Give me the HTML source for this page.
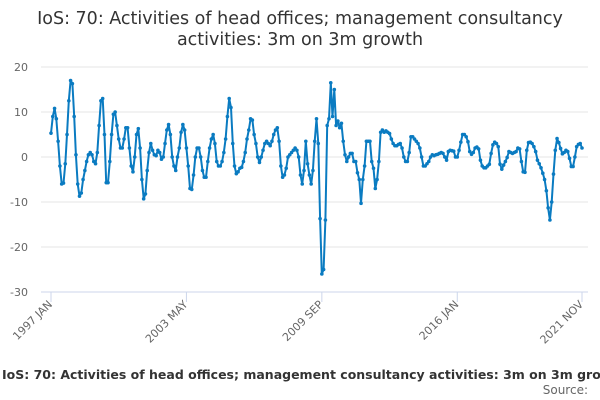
<!DOCTYPE html>
<html><head><meta charset="utf-8"><style>
body{margin:0;background:#fff;font-family:"DejaVu Sans","Liberation Sans",sans-serif;}
#wrap{position:relative;width:600px;height:400px;overflow:hidden;}
svg text{font-family:"DejaVu Sans","Liberation Sans",sans-serif;}
</style></head><body>
<div id="wrap">
<svg id="chart" width="600" height="400">
<text x="300" y="24" text-anchor="middle" font-size="17.5" fill="#333">IoS: 70: Activities of head offices; management consultancy</text>
<text x="300" y="45" text-anchor="middle" font-size="17.5" fill="#333">activities: 3m on 3m growth</text>
<g id="grid"></g><g id="yaxis"></g><g id="xaxis"></g><g id="series"></g>
<text x="2" y="379" font-size="12.5" font-weight="bold" fill="#333">IoS: 70: Activities of head offices; management consultancy activities: 3m on 3m growth</text>
<text x="588" y="394" text-anchor="end" font-size="12" fill="#666">Source:</text>
</svg></div>
<script>
const yTicks=[20,10,0,-10,-20,-30];
const xTickMonths=[0,76,152,228,298];
const xTickLabels=["1997 JAN","2003 MAY","2009 SEP","2016 JAN","2021 NOV"];
const values=[
5.3,9,10.8,8.5,3.5,-2,-6,-5.8,-1.5,5,12.5,17,
16.3,9,0.5,-6,-8.7,-8,-5,-3,-1,0.5,1,0.5,
-1,-1.5,1,7,12.5,13,5,-5.7,-5.7,-1,5,9.5,
10,7,4,2,2,4,6.5,6.5,2,-2,-3.3,0,
5,6.3,2,-5,-9.3,-8.2,-3,1,3,1.5,0.5,0.3,
1.5,1,-0.5,0,3,6,7.2,5,0,-2,-3,0,
2,5.5,7.2,6,2,-2,-7,-7.2,-4,0,2,2,
0,-3,-4.5,-4.5,-1,2,4,5,3,-1,-2,-2,
-1,1,4,9,13,11,3,-2,-3.7,-3.3,-2.5,-2.3,
-1,1,4,6,8.5,8.2,5,3,0,-1.2,0,1.5,
3,3.5,3,2.5,3.5,5,6,6.5,3.5,-2,-4.5,-4,
-2.5,0,0.5,1,1.5,2,1.5,0,-4,-6,-3,3.5,
-1.5,-4,-6,-3,3.5,8.5,3,-13.7,-26,-25,-14,7,8.5,16.5,9,15,7,8,6.5,7.5,3.5,0.5,-1,0,0.8,0.8,-1,-1,-3.5,-5,-10.3,-5,-2,3.5,3.5,3.5,-1,-2.5,-7,-5,-1,5.5,6,5.5,5.8,5.5,5.2,4,3,2.5,2.5,2.8,3,2,0,-1,-1,1,4.5,4.5,4,3.5,3,2,0,-2,-2,-1.5,-1,0,0.5,0.3,0.5,
0.6,0.8,1,0.8,0,-0.7,1.2,1.5,1.4,1.3,0,0,1.5,3.3,5,5,4.5,3.4,1.2,0.6,1,2,2.2,1.8,-0.7,-2,-2.4,-2.4,-2,-1.6,0.8,2.7,3.3,3,2.3,-1.6,-2.7,-1.8,-1,-0.1,1.2,1,0.8,1,1.2,2,1.8,-1,-3.3,-3.4,1.5,3.2,3.3,3,2.3,1.2,-0.7,-1.5,-2.4,-3.6,-5,-7.5,-11.3,-14,-10,-3.8,1.5,4.1,3.2,1.9,0.7,1,1.5,1.2,-0.3,-2.1,-2.1,0,2.3,2.8,3,2
];
const NS="http://www.w3.org/2000/svg";
const X0=51,X1=582,N=values.length;
function xS(i){return X0+(X1-X0)*i/298;}
function xI(i){return X0+(X1-X0)*i/(N-1);}
function yS(v){return 157-v*4.5;}
function mk(tag,attrs,parent){const e=document.createElementNS(NS,tag);for(const k in attrs)e.setAttribute(k,attrs[k]);parent.appendChild(e);return e;}
const grid=document.getElementById('grid'),ya=document.getElementById('yaxis'),xa=document.getElementById('xaxis'),se=document.getElementById('series');
yTicks.forEach(t=>{
 const l=mk('line',{x1:X0-10,x2:588,y1:yS(t),y2:yS(t),stroke:t===-30?'#ccd6eb':'#e6e6e6','stroke-width':1},grid);
 
 
 const tx=mk('text',{x:28,y:yS(t)+4,'text-anchor':'end','font-size':11,fill:'#666'},ya);
 tx.textContent=t;
 
 
});
xTickMonths.forEach((m,i)=>{
 const x=xS(m);
 const tk=mk('line',{x1:x,x2:x,y1:292,y2:302,stroke:'#ccd6eb'},xa);
 
 
 const tx=mk('text',{x:x+2,y:305,'text-anchor':'end','font-size':11,fill:'#666',transform:`rotate(-45 ${x+2} 305)`},xa);
 tx.textContent=xTickLabels[i];
 
 
});
const pts=values.map((v,i)=>xI(i).toFixed(1)+','+yS(v).toFixed(1)).join(' ');
const pl=mk('polyline',{points:pts,fill:'none',stroke:'#0a7bc1','stroke-width':2,'stroke-linejoin':'round'},se);


values.forEach((v,i)=>{
 const c=mk('circle',{cx:xI(i),cy:yS(v),r:1.8,fill:'#0a7bc1'},se);
 
 
});
</script>
</body></html>
